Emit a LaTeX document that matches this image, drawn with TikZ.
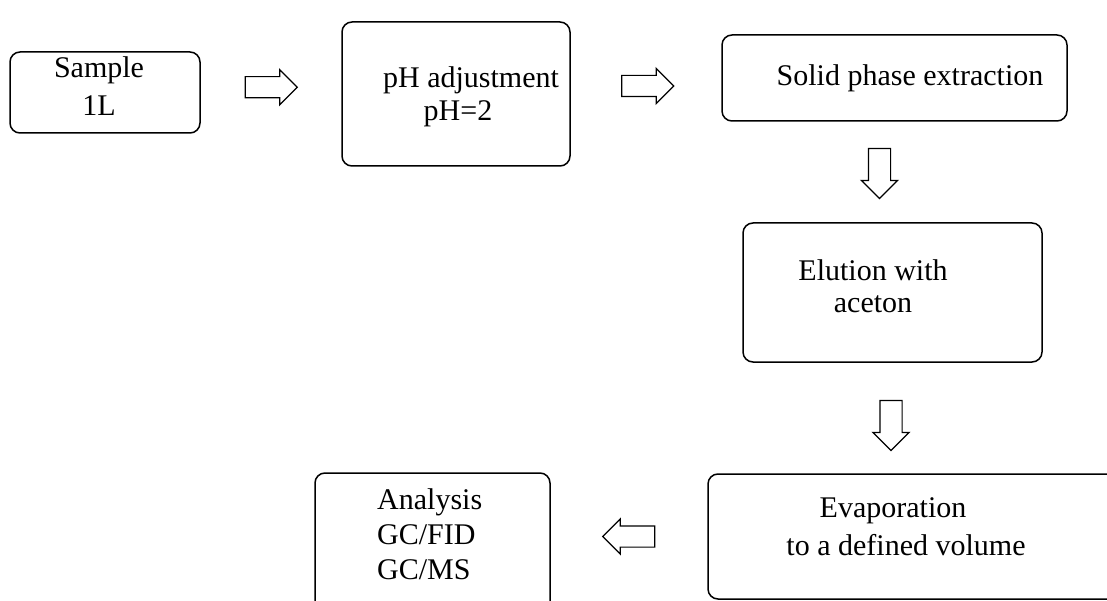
\documentclass[tikz,border=0pt]{standalone}
\usepackage{fontspec}
\setmainfont{Liberation Serif}
\usetikzlibrary{
  shapes.arrows,
  positioning,
  calc
}
\tikzset{
  stepbox/.style={
    draw=black, line width=1.5pt,
    rounded corners=10pt, inner sep=0pt
  },
  steptext/.style={
    inner sep=0pt, align=center,
    font=\fontsize{30}{35}\selectfont
  },
  flowarrow/.style={
    single arrow, draw=black, fill=white, line width=1.2pt,
    inner xsep=0pt, inner ysep=10pt, minimum height=52pt,
    minimum width=20pt,
    single arrow head extend=7pt, single arrow head indent=0pt
  },
  downarrow/.style={
    flowarrow, shape border rotate=270,
    inner xsep=10.5pt, inner ysep=0pt, minimum height=50pt
  },
}

\begin{document}
\begin{tikzpicture}[x=1pt, y=-1pt]

  \useasboundingbox (0,0) rectangle (1107,601);
  \clip (0,0) rectangle (1107,601);

  %% Boxes
  \node[stepbox, minimum width=190pt, minimum height=81pt] (sample) at (105,92.5) {};
  \node[stepbox, minimum width=228pt, minimum height=144pt] (ph) at (456,94) {};
  \node[stepbox, minimum width=345pt, minimum height=86pt] (spe) at (894.5,78) {};
  \node[stepbox, minimum width=299pt, minimum height=139pt] (elu) at (892.5,292.5) {};
  \node[stepbox, minimum width=432pt, minimum height=125pt] (evap) at (924,536.5) {};
  \node[stepbox, minimum width=235pt, minimum height=142pt] (ana) at (432.5,544) {};

  %% Texts
  \node[steptext] (sampletxt) at (99,86) {Sample\\[3.5pt]1L};
  \node[steptext] (phtxt) at (471,96.5) {pH adjustment\\[-2pt]pH=2\hspace*{26pt}};
  \node[steptext] (spetxt) at (910,78) {Solid phase extraction};
  \node[steptext] (elutxt) at (873,285.75) {Elution with\\[-3pt]aceton};
  \node[steptext] (evaptxt) at (906,527) {Evaporation\hspace*{26pt}\\[3pt]to a defined volume};
  \node[steptext, align=left, anchor=west] (anatxt) at (377,534)
    {Analysis\\GC/FID\\GC/MS};

  %% Arrows
  \node[flowarrow] (a1) at ($(sample.east)!0.5!(ph.west)+(-5,-6)$) {};
  \node[flowarrow] (a2) at ($(ph.east)!0.5!(spe.west)+(-3.5,0)$) {};
  \node[downarrow] (a3) at ($(spe.south)!0.5!(elu.north)+(-14,-4)$) {};
  \node[downarrow] (a4)
    at ($(elu.south)!0.5!(elu.south |- evap.north)+(-1.5,2)$) {};
  \node[flowarrow, shape border rotate=180] (a5)
    at ($(ana.east |- evap.west)!0.5!(evap.west)+(5,0)$) {};

\end{tikzpicture}
\end{document}
